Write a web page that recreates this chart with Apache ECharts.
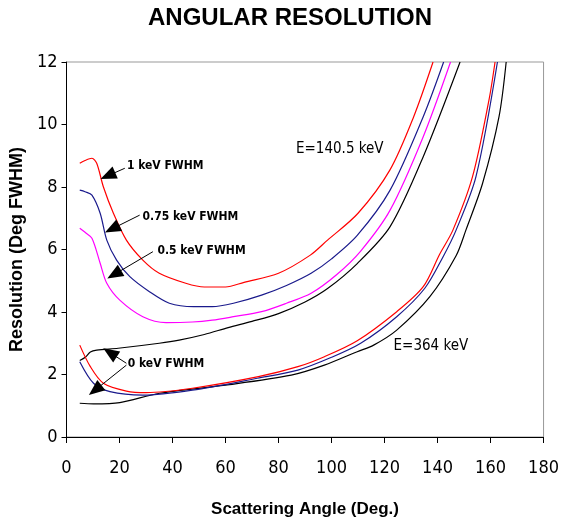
<!DOCTYPE html>
<html>
<head>
<meta charset="utf-8">
<script src="https://cdn.jsdelivr.net/npm/echarts@6/dist/echarts.min.js"></script>
<style>
  html, body { margin: 0; padding: 0; background: #fff; }
  #chart { width: 562px; height: 529px; }
</style>
</head>
<body>
<div id="chart"></div>
<script>
// Angular resolution vs scattering angle, for two gamma energies and several
// detector energy resolutions (FWHM).

// E = 140.5 keV family
const e140_1keV_x   = [5, 7, 9.6, 11.4, 13.9, 17.7, 22.6, 28.8, 35, 45, 52, 60, 67, 80, 92, 98.5, 110, 122, 131, 138.3];
const e140_1keV_y   = [8.76, 8.85, 8.92, 8.76, 8.01, 7.16, 6.30, 5.66, 5.24, 4.92, 4.80, 4.80, 4.95, 5.24, 5.82, 6.30, 7.16, 8.54, 10.25, 12.0];
const e140_075keV_x = [5, 7, 9.6, 12.7, 15.2, 18.9, 23.9, 31.3, 38.8, 48, 55, 63, 73.6, 83, 92.3, 100, 109.7, 122.1, 134.6, 142.3];
const e140_075keV_y = [7.90, 7.85, 7.74, 7.16, 6.30, 5.66, 5.13, 4.65, 4.28, 4.17, 4.17, 4.28, 4.54, 4.85, 5.24, 5.70, 6.45, 7.90, 10.25, 12.0];
const e140_05keV_x  = [5, 7, 9.6, 12.7, 15.2, 20.1, 28.8, 37.6, 47.5, 55, 63, 73.6, 83, 92.3, 102, 111, 122.1, 134.6, 144.9];
const e140_05keV_y  = [6.68, 6.55, 6.36, 5.56, 4.92, 4.38, 3.85, 3.66, 3.68, 3.74, 3.85, 4.01, 4.28, 4.60, 5.20, 5.95, 7.26, 9.61, 12.0];
const e140_0keV_x   = [5, 7.1, 9, 11.4, 19.5, 35, 42.5, 52, 61, 70, 80, 90, 98.5, 109.7, 122.1, 134.6, 148.5];
const e140_0keV_y   = [2.45, 2.55, 2.72, 2.78, 2.84, 3.00, 3.10, 3.28, 3.50, 3.70, 3.95, 4.32, 4.75, 5.55, 6.73, 8.97, 12.0];

// E = 364 keV family
const e364_1keV_x   = [5, 9, 13.9, 22.6, 30.1, 47.5, 72.4, 87.3, 97.3, 109.7, 124.6, 134.6, 140.8, 145.8, 153.2, 159.4, 161.7];
const e364_1keV_y   = [2.94, 2.25, 1.72, 1.47, 1.42, 1.56, 1.93, 2.25, 2.57, 3.08, 4.01, 4.81, 5.85, 6.62, 8.33, 10.78, 12.0];
const e364_075keV_x = [5, 10.2, 16.4, 28.8, 47.5, 72, 87.3, 100, 111, 124.6, 135.2, 142.1, 147, 154.5, 162.6];
const e364_075keV_y = [2.41, 1.72, 1.45, 1.34, 1.50, 1.88, 2.14, 2.55, 3.00, 3.85, 4.76, 5.77, 6.62, 8.33, 12.0];
const e364_0keV_x   = [5, 10.2, 20.1, 35.1, 60, 84.8, 97.3, 109.7, 115.9, 124.6, 137.1, 147, 150.7, 157, 163.2, 165.9];
const e364_0keV_y   = [1.08, 1.06, 1.10, 1.40, 1.66, 1.98, 2.30, 2.73, 2.94, 3.42, 4.49, 5.80, 6.62, 8.12, 10.25, 12.0];

// Axis ticks
const xTicks = { min: 0, max: 180, step: 20 };
const yTicks = { min: 0, max: 12, step: 2 };

// Annotation text and the curve start each arrow points to: [label, labelX, labelY, tailX, tailY, tipX, tipY]
const arrowNotes = [
  ['1 keV FWHM',    22.8, 8.67, 22.0, 8.60, 15.6, 8.36],
  ['0.75 keV FWHM', 28.7, 7.04, 27.6, 7.10, 17.2, 6.66],
  ['0.5 keV FWHM',  34.3, 5.95, 32.6, 5.93, 18.0, 5.20],
  ['0 keV FWHM',    23.1, 2.34, 22.6, 2.36, 16.4, 2.70],
  ['',              23.1, 2.34, 22.6, 2.30, 10.8, 1.50]
];
const energyNotes = [
  ['E=140.5 keV', 86.6, 9.22],
  ['E=364 keV',  123.4, 2.91]
];

const RED = '#ff0000', BLUE = '#1a1a8c', MAGENTA = '#ff00ff', BLACK = '#000000';
const NARROW = "'Liberation Sans Narrow', 'DejaVu Sans Condensed', 'Liberation Sans', sans-serif";
const BOLD = "'Liberation Sans', Arial, sans-serif";

function zip(xs, ys) { return xs.map((x, i) => [x, ys[i]]); }

function curve(name, xs, ys, color) {
  return {
    name, type: 'line', data: zip(xs, ys),
    showSymbol: false, smooth: 0.3,
    clip: true, silent: true,
    lineStyle: { color, width: 1.2 }
  };
}

const chart = echarts.init(document.getElementById('chart'), null, { renderer: 'canvas' });

const series = [
  curve('140.5 keV, 1 keV', e140_1keV_x, e140_1keV_y, RED),
  curve('140.5 keV, 0.75 keV', e140_075keV_x, e140_075keV_y, BLUE),
  curve('140.5 keV, 0.5 keV', e140_05keV_x, e140_05keV_y, MAGENTA),
  curve('140.5 keV, 0 keV', e140_0keV_x, e140_0keV_y, BLACK),
  curve('364 keV, 0 keV', e364_0keV_x, e364_0keV_y, BLACK),
  curve('364 keV, 0.75 keV', e364_075keV_x, e364_075keV_y, BLUE),
  curve('364 keV, 1 keV', e364_1keV_x, e364_1keV_y, RED),
  {
    // annotation layer: arrows and labels placed in data coordinates
    name: 'notes', type: 'line', data: [], silent: true,
    markLine: {
      silent: true, animation: false,
      symbol: ['none', 'triangle'], symbolSize: [13, 16],
      lineStyle: { color: '#000', width: 1, type: 'solid' },
      label: { show: false },
      data: arrowNotes.map(n => [{ coord: [n[3], n[4]] }, { coord: [n[5], n[6]] }])
    },
    markPoint: {
      silent: true, animation: false,
      symbol: 'circle', symbolSize: 0,
      data: arrowNotes.filter(n => n[0]).map(n => ({
        coord: [n[1], n[2]], name: n[0],
        label: {
          show: true, position: 'right', distance: 0, formatter: n[0],
          color: '#000', fontFamily: NARROW, fontWeight: 'bold', fontSize: 12
        }
      })).concat(energyNotes.map(n => ({
        coord: [n[1], n[2]], name: n[0],
        label: {
          show: true, position: 'right', distance: 0, formatter: n[0],
          color: '#000', fontFamily: NARROW, fontSize: 15
        }
      })))
    }
  }
];

chart.setOption({
  animation: false,
  backgroundColor: '#ffffff',
  title: {
    text: 'ANGULAR RESOLUTION',
    left: 143, top: 1,
    textStyle: { fontFamily: BOLD, fontWeight: 'bold', fontSize: 24, color: '#000' }
  },
  grid: {
    left: 66, right: 14, top: 62, bottom: 92,
    show: true, borderColor: '#999', borderWidth: 1, backgroundColor: '#fff'
  },
  xAxis: {
    type: 'value', min: xTicks.min, max: xTicks.max, interval: xTicks.step,
    name: 'Scattering Angle (Deg.)', nameLocation: 'middle', nameGap: 64,
    nameTextStyle: { fontFamily: BOLD, fontWeight: 'bold', fontSize: 17, color: '#000' },
    axisLine: { show: true, lineStyle: { color: '#000', width: 1 } },
    axisTick: { show: true, inside: false, length: 6, lineStyle: { color: '#000' } },
    axisLabel: { margin: 22, fontFamily: NARROW, fontSize: 18, color: '#000' },
    splitLine: { show: false }
  },
  yAxis: {
    type: 'value', min: yTicks.min, max: yTicks.max, interval: yTicks.step,
    name: 'Resolution (Deg FWHM)', nameLocation: 'middle', nameGap: 30,
    nameTextStyle: { fontFamily: BOLD, fontWeight: 'bold', fontSize: 18, color: '#000' },
    axisLine: { show: true, lineStyle: { color: '#000', width: 1 } },
    axisTick: { show: true, inside: false, length: 5, lineStyle: { color: '#000' } },
    axisLabel: { margin: 9, fontFamily: NARROW, fontSize: 18, color: '#000' },
    splitLine: { show: false }
  },
  series
});
</script>
</body>
</html>
